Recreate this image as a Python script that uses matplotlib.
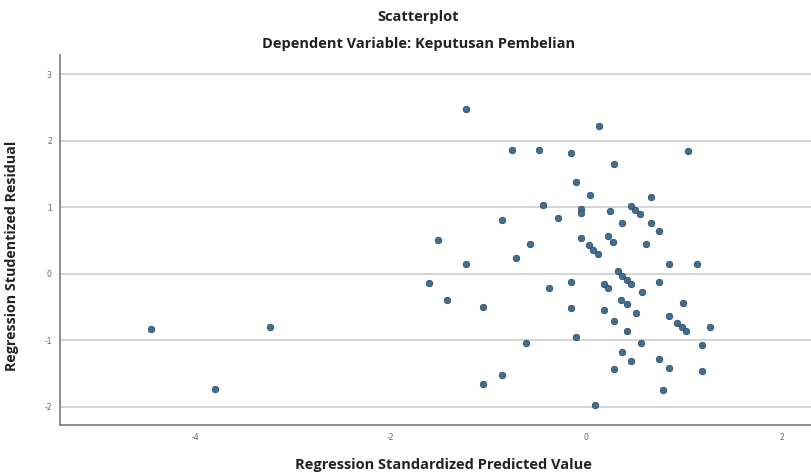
import matplotlib
matplotlib.use("Agg")
import matplotlib.pyplot as plt

# predicted value (x) and studentized residual (y)
pred = [
    -4.45, -3.23, -3.80,
    -1.23, 0.13, -0.76, -0.48, -0.15, 1.04, 0.28, -0.10, 0.04, 0.66, -0.44,
    -0.05, -0.05, 0.24, 0.46, 0.50, 0.55, -0.29, -0.86, 0.37, 0.66, 0.75,
    -1.52, -0.05, -0.57, 0.03, 0.07, 0.12, 0.22, 0.27, 0.61, -0.72, -1.23,
    0.85, 1.13, -1.61, 0.33, 0.37, 0.42, 0.46, -0.15, 0.18, 0.22, 0.75,
    -0.38, 0.57, -1.42, 0.36, 0.42, 0.99, -1.05, -0.15, 0.18, 0.51, 0.85,
    0.28, 0.93, 0.98, 1.02, 1.27, 0.42, -0.10, 0.56, -0.62, 1.18, 0.37,
    0.46, 0.75, 0.85, 0.28, 1.18, -0.86, -1.05, 0.79, 0.09,
]
resid = [
    -0.83, -0.81, -1.74,
    2.48, 2.23, 1.86, 1.86, 1.81, 1.84, 1.65, 1.38, 1.18, 1.16, 1.03,
    0.97, 0.92, 0.95, 1.02, 0.96, 0.90, 0.84, 0.81, 0.76, 0.77, 0.64,
    0.51, 0.53, 0.44, 0.43, 0.36, 0.29, 0.57, 0.48, 0.45, 0.23, 0.15,
    0.14, 0.15, -0.14, 0.04, -0.03, -0.09, -0.15, -0.12, -0.16, -0.22, -0.13,
    -0.22, -0.27, -0.40, -0.39, -0.46, -0.44, -0.50, -0.51, -0.55, -0.59, -0.64,
    -0.71, -0.75, -0.81, -0.87, -0.81, -0.86, -0.96, -1.04, -1.05, -1.07, -1.18,
    -1.31, -1.29, -1.42, -1.44, -1.47, -1.52, -1.66, -1.75, -1.97,
]
xticks = [-4, -2, 0, 2]
yticks = [-2, -1, 0, 1, 2, 3]

plt.rcParams["axes.unicode_minus"] = False
font = ["Open Sans", "DejaVu Sans"]

fig = plt.figure(figsize=(8.12, 4.75), dpi=100)
ax = fig.add_axes([0.074, 0.105, 0.926, 0.779])

ax.scatter(pred, resid, s=22, color="#3f6f94", edgecolors="#2a4256",
           linewidths=0.5, zorder=3)

ax.set_xlim(-5.38, 2.31)
ax.set_ylim(-2.28, 3.29)
ax.set_xticks(xticks)
ax.set_yticks(yticks)
ax.tick_params(length=0, labelsize=5.5, labelcolor="#666666", pad=6)
ax.grid(axis="y", color="#d0d0d0", linewidth=1.3)
ax.set_axisbelow(True)

for s in ["top", "right"]:
    ax.spines[s].set_visible(False)
for s in ["left", "bottom"]:
    ax.spines[s].set_color("#7a7a7a")
    ax.spines[s].set_linewidth(1.2)

ax.set_xlabel("Regression Standardized Predicted Value", fontsize=10.5,
              fontweight="bold", family=font, color="#222222")
ax.xaxis.set_label_coords(0.51, -0.09)
ax.set_ylabel("Regression Studentized Residual", fontsize=10.3,
              fontweight="bold", family=font, color="#222222")
ax.yaxis.set_label_coords(-0.055, 0.457)

fig.text(0.515, 0.964, "Scatterplot", ha="center", va="center",
         fontsize=10.5, fontweight="bold", family=font, color="#222222")
fig.text(0.515, 0.907, "Dependent Variable: Keputusan Pembelian", ha="center",
         va="center", fontsize=10.5, fontweight="bold", family=font,
         color="#222222")

fig.savefig("out.png", dpi=100)
